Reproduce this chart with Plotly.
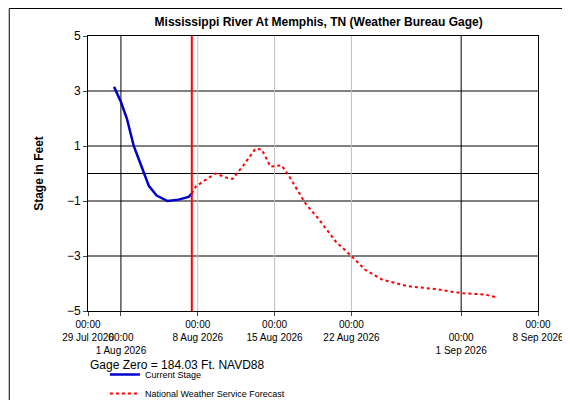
import plotly.graph_objects as go

# observed stage (ft)
obs_time = ["2026-07-31 09:00", "2026-08-01 00:00", "2026-08-01 13:00", "2026-08-02 04:00",
            "2026-08-02 20:00", "2026-08-03 13:00", "2026-08-04 06:00", "2026-08-05 06:00",
            "2026-08-06 06:00", "2026-08-07 04:00", "2026-08-07 11:00"]
obs_stage = [3.15, 2.6, 2.0, 1.0, 0.3, -0.45, -0.8, -1.0, -0.95, -0.85, -0.73]

# NWS forecast (ft)
fc_time = ["2026-08-07 11:00", "2026-08-07 20:00", "2026-08-08 18:00", "2026-08-09 15:00",
           "2026-08-10 15:00", "2026-08-11 04:00", "2026-08-12 04:00", "2026-08-13 06:00",
           "2026-08-13 20:00", "2026-08-14 15:00", "2026-08-15 15:00", "2026-08-16 06:00",
           "2026-08-17 20:00", "2026-08-19 00:00", "2026-08-20 15:00", "2026-08-22 00:00",
           "2026-08-23 06:00", "2026-08-24 18:00", "2026-08-27 04:00", "2026-08-29 15:00",
           "2026-09-01 00:00", "2026-09-03 04:00", "2026-09-04 04:00"]
fc_stage = [-0.73, -0.47, -0.22, 0.0, -0.15, -0.2, 0.3, 0.9, 0.87, 0.25, 0.3, -0.05,
            -1.1, -1.65, -2.5, -3.0, -3.5, -3.85, -4.1, -4.2, -4.35, -4.4, -4.5]

now_time = "2026-08-07 11:00"

tick_vals = ["2026-07-29", "2026-08-01", "2026-08-08", "2026-08-15", "2026-08-22", "2026-09-01", "2026-09-08"]
tick_text = ["00:00<br>29 Jul 2026", " <br>00:00<br>1 Aug 2026", "00:00<br>8 Aug 2026",
             "00:00<br>15 Aug 2026", "00:00<br>22 Aug 2026", " <br>00:00<br>1 Sep 2026",
             "00:00<br>8 Sep 2026"]
month_lines = ["2026-08-01", "2026-09-01"]
week_lines = ["2026-08-08", "2026-08-15", "2026-08-22"]
y_lines = [3, 1, 0, -1, -3]

fig = go.Figure()
fig.add_trace(go.Scatter(x=obs_time, y=obs_stage, mode="lines", name="Current Stage",
                         line=dict(color="#0000cc", width=2.5)))
fig.add_trace(go.Scatter(x=fc_time, y=fc_stage, mode="lines", name="National Weather Service Forecast",
                         line=dict(color="#ff0000", width=2, dash="dot")))

for d in week_lines:
    fig.add_shape(type="line", x0=d, x1=d, y0=-5, y1=5, line=dict(color="#c0c0c0", width=1), layer="below")
for d in month_lines:
    fig.add_shape(type="line", x0=d, x1=d, y0=-5, y1=5, line=dict(color="black", width=1), layer="below")
for v in y_lines:
    fig.add_shape(type="line", x0=0, x1=1, xref="x domain", y0=v, y1=v, line=dict(color="black", width=1), layer="below")
fig.add_shape(type="line", x0=now_time, x1=now_time, y0=-5, y1=5, line=dict(color="#ff0000", width=2))
# outer frame
fig.add_shape(type="rect", xref="paper", yref="paper", x0=-0.175, x1=1.085, y0=-0.35, y1=1.1,
              line=dict(color="black", width=1))

fig.add_annotation(text="Gage Zero = 184.03 Ft. NAVD88", xref="paper", yref="paper", x=0, y=-0.165,
                   xanchor="left", yanchor="top", showarrow=False, font=dict(size=12))

fig.update_xaxes(range=["2026-07-29", "2026-09-08"], tickvals=tick_vals, ticktext=tick_text,
                 tickangle=0, showgrid=False, showline=True, linecolor="black", mirror=True,
                 ticks="outside", ticklen=4, tickfont=dict(size=10), zeroline=False)
fig.update_yaxes(range=[-5, 5], tickvals=[5, 3, 1, -1, -3, -5], showgrid=False, showline=True,
                 linecolor="black", mirror=True, ticks="outside", ticklen=4, zeroline=False,
                 title=dict(text="<b>Stage in Feet</b>", font=dict(size=12), standoff=20),
                 tickfont=dict(size=12))

fig.update_layout(
    width=570, height=400,
    font=dict(family="Liberation Sans, Arial", color="black"),
    title=dict(text="<b>Mississippi River At Memphis, TN (Weather Bureau Gage)</b>", x=0.545, y=0.975,
               xanchor="center", font=dict(size=12)),
    paper_bgcolor="white", plot_bgcolor="white",
    margin=dict(l=80, r=40, t=28, b=97, autoexpand=False),
    legend=dict(orientation="h", x=0.17, y=0.06, xref="container", yref="container",
                xanchor="left", yanchor="middle", font=dict(size=9),
                entrywidth=230, entrywidthmode="pixels"),
)

fig.write_html("out.html")
